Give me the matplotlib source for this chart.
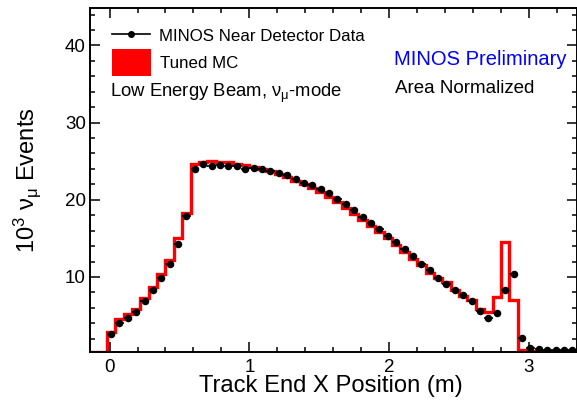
import numpy as np
import matplotlib
matplotlib.use('Agg')
import matplotlib.pyplot as plt
from matplotlib.lines import Line2D
from matplotlib.patches import Rectangle

# binning of the track end x position (m)
bin_lo = -0.14
bin_w = 0.06
n_bins = 58

# MC histogram, one value per bin (10^3 events)
mc_vals = [0.0, 0.0, 2.9, 4.5, 5.2, 5.8, 7.3, 8.7, 10.4, 12.2,
           15.1, 18.3, 24.6, 24.9, 25.05, 24.9, 24.85, 24.7, 24.5, 24.3,
           24.05, 23.75, 23.4, 22.9, 22.45, 22.1, 21.5, 21.0, 20.4, 19.7,
           19.0, 18.2, 17.4, 16.6, 15.8, 15.0, 14.1, 13.2, 12.3, 11.5,
           10.5, 9.9, 9.35, 8.25, 7.5, 7.0, 5.9, 5.45, 7.4, 14.5,
           7.0, 0.5, 0.45, 0.45, 0.4, 0.4, 0.4, 0.35]

# data points, starting at bin 2
data_vals = [2.57, 4.04, 4.69, 5.42, 6.85, 8.36, 9.92, 11.73,
             14.33, 17.87, 23.97, 24.62, 24.36, 24.49, 24.4, 24.36, 23.97, 24.14,
             23.93, 23.75, 23.49, 23.15, 22.67, 22.24, 21.89, 21.46, 20.9, 20.08,
             19.52, 18.65, 17.78, 17.0, 16.23, 15.37, 14.54, 13.59, 12.69, 11.73,
             10.87, 9.92, 9.14, 8.27, 7.63, 6.89, 5.55, 4.69, 5.33, 8.27,
             10.44, 2.14, 0.84, 0.71, 0.58, 0.55, 0.55, 0.49]
data_first_bin = 2

x_ticks = [0, 1, 2, 3]
y_ticks = [10, 20, 30, 40]
x_range = (-0.14, 3.34)
y_range = (0.28, 44.85)

plt.rcParams['font.family'] = ['Liberation Sans', 'DejaVu Sans']
plt.rcParams['mathtext.fontset'] = 'custom'
plt.rcParams['mathtext.rm'] = 'Liberation Sans'
plt.rcParams['mathtext.it'] = 'Liberation Sans:italic'

W, H = 577, 405
fig = plt.figure(figsize=(W / 100, H / 100), dpi=100)
ax = fig.add_axes([90 / W, 1 - 352 / H, (576.5 - 90) / W, (352 - 8) / H])

edges = bin_lo + bin_w * np.arange(n_bins + 1)
centers = edges[:-1] + bin_w / 2

mc = np.array(mc_vals)
# like ROOT, bins below the frame minimum are drawn on the frame
ax.stairs(np.clip(mc, y_range[0], None), edges, baseline=None,
          color='#ff0000', lw=2.4)

xd = centers[data_first_bin:data_first_bin + len(data_vals)]
ax.errorbar(xd, data_vals, xerr=bin_w / 2, fmt='o', color='black',
            ms=4.4, elinewidth=1.2, capsize=0)

ax.set_xlim(*x_range)
ax.set_ylim(*y_range)
ax.set_xticks(x_ticks)
ax.set_yticks(y_ticks)
ax.set_xticks(np.arange(0, 3.4, 0.2), minor=True)
ax.set_yticks(np.arange(2, 45, 2), minor=True)
ax.tick_params(which='both', direction='in', top=True, right=True,
               labelsize=13.5, width=1.1, color='black')
ax.tick_params(which='major', length=7)
ax.tick_params(which='minor', length=3.6)
ax.tick_params(axis='x', pad=5)
ax.tick_params(axis='y', pad=3)
for s in ax.spines.values():
    s.set_linewidth(1.4)

fig.text(331 / W, 1 - 386 / H, 'Track End X Position (m)', fontsize=17.1,
         ha='center', va='center')
fig.text(27 / W, 1 - 180 / H, r'10$^{3}$ ν$_{\mathrm{μ}}$ Events',
         fontsize=17.1, rotation=90, ha='center', va='center')

# legend, drawn by hand in pixel positions like the ROOT TLegend
fig.add_artist(Line2D([112 / W, 150 / W], [1 - 34 / H, 1 - 34 / H],
                      color='black', lw=1.2))
fig.add_artist(Line2D([131 / W], [1 - 34 / H], marker='o', ms=4,
                      color='black'))
fig.add_artist(Rectangle((112 / W, 1 - 76 / H), 39 / W, 27 / H,
                         facecolor='#ff0000', edgecolor='none'))
fig.text(159 / W, 1 - 41 / H, 'MINOS Near Detector Data', fontsize=12.2,
         va='baseline')
fig.text(160 / W, 1 - 68 / H, 'Tuned MC', fontsize=12.2, va='baseline')
fig.text(110 / W, 1 - 97 / H, r'Low Energy Beam, ν$_{\mathrm{μ}}$-mode',
         fontsize=13.3, va='baseline')

fig.text(567 / W, 1 - 65 / H, 'MINOS Preliminary', fontsize=14.5,
         color='#0000ff', ha='right', va='baseline')
fig.text(534 / W, 1 - 93 / H, 'Area Normalized', fontsize=13.5,
         ha='right', va='baseline')

fig.savefig('out.png', dpi=100)
